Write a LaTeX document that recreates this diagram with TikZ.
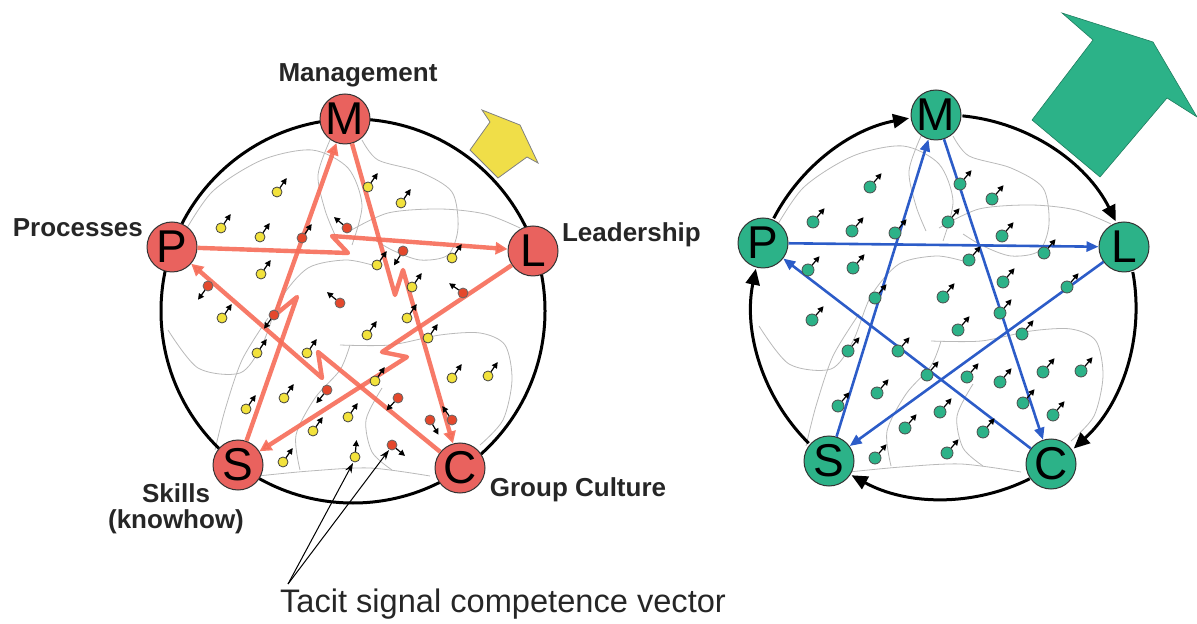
\documentclass[tikz,border=0pt]{standalone}
\usepackage{fontspec}
\setmainfont{Liberation Sans}
\usetikzlibrary{arrows.meta}

\definecolor{knotred}{RGB}{233,98,94}
\definecolor{knotgreen}{RGB}{44,178,136}
\definecolor{flowred}{RGB}{246,108,88}
\definecolor{flowblue}{RGB}{44,92,200}
\definecolor{dotyellow}{RGB}{242,226,60}
\definecolor{dotred}{RGB}{228,72,44}
\definecolor{boomyellow}{RGB}{240,222,72}

\tikzset{
  knot/.style={circle, draw=black!80, line width=0.5pt, minimum size=25pt,
    inner sep=0pt, font=\fontsize{23}{23}\selectfont},
  redknot/.style={knot, fill=knotred},
  greenknot/.style={knot, fill=knotgreen},
  tag/.style={font=\fontsize{13}{13}\selectfont\bfseries, text=black!85},
  contour/.style={gray!55, line width=0.4pt},
  redflow/.style={flowred, line width=2.2pt, line join=round, opacity=0.9,
    -{Triangle[length=6pt,width=6pt]}},
  blueflow/.style={flowblue, line width=1.3pt, -{Triangle[length=6pt,width=5pt]}},
  ring/.style={line width=1.5pt},
  ringarrow/.style={ring, -{Triangle[length=8pt,width=7pt]}},
  vec/.style={line width=0.6pt, -{Triangle[length=3pt,width=3pt]}},
  ydot/.style={draw=black!75, line width=0.4pt, fill=dotyellow},
  rdot/.style={draw=black!60, line width=0.4pt, fill=dotred},
  gdot/.style={draw=black!70, line width=0.4pt, fill=knotgreen},
  pointer/.style={line width=0.5pt, -{Stealth[length=5pt,width=3.5pt]}}
}

\begin{document}
\begin{tikzpicture}[x=0.5pt,y=-0.5pt]

\newcommand\contours{
  \draw[contour] plot[smooth] coordinates {(180,240) (212,192) (262,160) (312,150) (348,168) (362,205) (352,245)};
  \draw[contour] plot[smooth] coordinates {(362,140) (378,160) (420,172) (452,192) (458,228) (448,255) (420,260) (392,250) (372,238)};
  \draw[contour] plot[smooth] coordinates {(348,232) (388,213) (440,209) (485,214) (520,228)};
  \draw[contour] plot[smooth] coordinates {(168,330) (198,368) (240,373) (262,345) (280,300) (308,268) (345,260) (372,265)};
  \draw[contour] plot[smooth] coordinates {(215,450) (225,410) (242,360) (268,318)};
  \draw[contour] plot[smooth] coordinates {(340,345) (390,345) (440,335) (480,333) (505,345) (512,380) (503,420) (480,445)};
  \draw[contour] plot[smooth] coordinates {(258,476) (310,471) (370,468) (430,476)};
  \draw[contour] plot[smooth] coordinates {(382,388) (366,420) (372,452) (392,470)};
  \draw[contour] plot[smooth] coordinates {(300,470) (296,435) (315,398) (340,370) (350,345)};
  \draw[contour] plot[smooth] coordinates {(330,140) (318,175) (325,210) (335,235)};
}

  \useasboundingbox (0,0) rectangle (1197,624);

  %% left: before
  \contours
  \draw[ring] (353,311) circle (192);

  \node[redknot] (M1) at (345,119) {M};
  \node[redknot] (P1) at (172,247) {P};
  \node[redknot] (L1) at (533,251) {L};
  \node[redknot] (S1) at (238,465) {S};
  \node[redknot] (C1) at (460,468) {C};

  \node[tag] at (358,75) {Management};
  \node[tag, anchor=east] at (150,228) {Processes};
  \node[tag, anchor=west] at (555,235) {Leadership};
  \node[tag, align=center] at (176,509) {Skills\\(knowhow)};
  \node[tag] at (578,490) {Group Culture};

  %% broken flows
  \draw[redflow] (P1) -- (348,253) -- (332,236) -- (L1);
  \draw[redflow] (S1) -- (297,297) -- (275,315) -- (M1);
  \draw[redflow] (M1) -- (395,295) -- (403,270) -- (C1);
  \draw[redflow] (C1) -- (318,352) -- (322,378) -- (P1);
  \draw[redflow] (L1) -- (382,352) -- (407,357) -- (S1);

  %% vectors
  \foreach \x/\y in {277/192, 221/228, 260/237, 261/274, 222/318, 368/187,
      401/203, 377/265, 452/258, 412/287, 407/318, 257/353, 307/353, 367/335,
      246/409, 284/398, 348/417, 313/431, 283/462, 428/338, 375/381, 452/378,
      488/376}{
    \draw[vec] (\x,\y) ++(-55:5) -- ++(-55:12);
    \draw[ydot] (\x,\y) circle (5);
  }
  \draw[vec] (355,457) ++(-85:5) -- ++(-85:12);
  \draw[ydot] (355,457) circle (5);
  \foreach \x/\y/\a in {302/238/-55, 347/228/-140, 403/251/122, 463/293/-145,
      208/286/126, 340/303/-140, 274/315/126, 327/390/129, 398/398/133,
      430/420/60, 452/420/-125, 392/445/40}{
    \draw[vec] (\x,\y) ++(\a:5) -- ++(\a:12);
    \draw[rdot] (\x,\y) circle (5);
  }

  \draw[fill=boomyellow, draw=gray, line width=0.4pt] (482,110) -- (520,125) -- (538,163)
  -- (527,157) -- (498,178) -- (470,150) -- (490,122) -- cycle;

  \node[font=\fontsize{16.3}{18}\selectfont, text=black!85] (tacit) at (503,604)
  {Tacit signal competence vector};
  \coordinate (base) at (288,584);
  \coordinate (tipY) at (353,463);
  \coordinate (tipR) at (389,450);
  \draw[pointer] (base) -- (tipY);
  \draw[pointer] (base) -- (tipR);

  %% right: after
  \begin{scope}[shift={(591,-4)}]
  \contours
  \end{scope}

  \node[greenknot] (M2) at (936,115) {M};
  \node[greenknot] (P2) at (763,243) {P};
  \node[greenknot] (L2) at (1124,247) {L};
  \node[greenknot] (S2) at (829,461) {S};
  \node[greenknot] (C2) at (1051,464) {C};

  \draw[ringarrow] (944,307) ++(207.5:192) arc[start angle=207.5, end angle=259.5, radius=192];
  \draw[ringarrow] (944,307) ++(-84.5:192) arc[start angle=-84.5, end angle=-26.5, radius=192];
  \draw[ringarrow] (944,307) ++(-10.5:192) arc[start angle=-10.5, end angle=47.5, radius=192];
  \draw[ringarrow] (944,307) ++(63.5:192) arc[start angle=63.5, end angle=118.8, radius=192];
  \draw[ringarrow] (944,307) ++(134.8:192) arc[start angle=134.8, end angle=191.5, radius=192];

  \draw[blueflow] (S2) -- (M2);
  \draw[blueflow] (M2) -- (C2);
  \draw[blueflow] (C2) -- (P2);
  \draw[blueflow] (P2) -- (L2);
  \draw[blueflow] (L2) -- (S2);

  \foreach \x/\y in {870/187, 813/222, 852/231, 895/233, 960/184, 992/199,
      948/222, 1002/236, 1044/253, 808/270, 853/268, 969/260, 1003/282,
      1067/287, 875/298, 943/297, 812/320, 1000/313, 958/330, 1022/334,
      848/351, 898/351, 927/375, 967/377, 1000/382, 1043/372, 1081/371,
      877/393, 838/406, 940/412, 1023/403, 905/428, 983/432, 1053/415,
      875/458, 947/453}{
    \draw[vec] (\x,\y) ++(-50:6) -- ++(-50:12);
    \draw[gdot] (\x,\y) circle (6);
  }

  \draw[fill=knotgreen, draw=knotgreen!70!black, line width=0.3pt] (1062,13) -- (1153,42)
  -- (1197,117) -- (1167,98) -- (1100,177) -- (1032,120) -- (1093,40) -- cycle;

\end{tikzpicture}
\end{document}
